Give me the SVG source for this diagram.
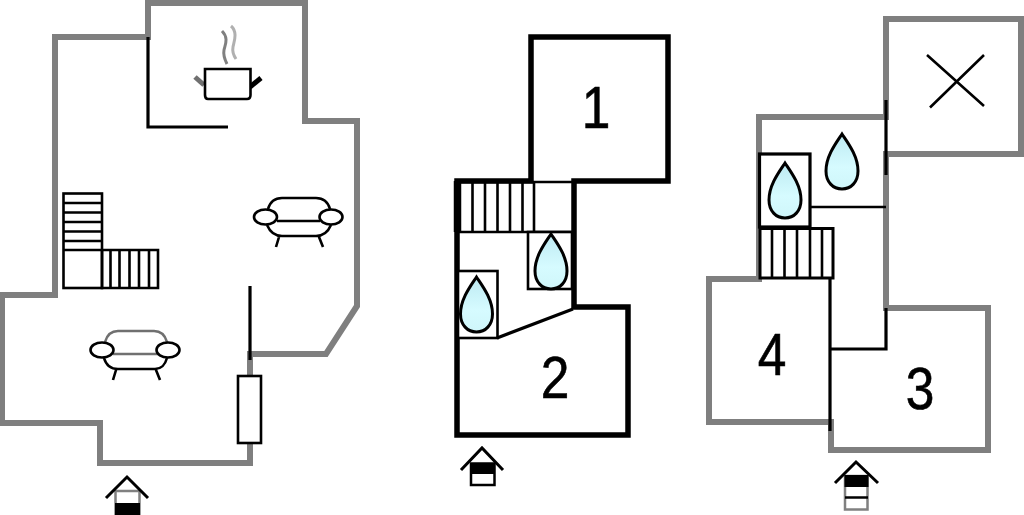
<svg xmlns="http://www.w3.org/2000/svg" width="1024" height="515" viewBox="0 0 1024 515">
<style>
.wall{fill:none;stroke:#7f7f7f;stroke-width:6;stroke-linejoin:miter}
.bwall{fill:none;stroke:#000;stroke-width:5.500;stroke-linejoin:miter}
.ln{fill:none;stroke:#000;stroke-width:3.200}
.th{fill:none;stroke:#000;stroke-width:2.600}
.st{fill:#fff;stroke:#000;stroke-width:2.600}
.drop{fill:url(#dg);stroke:#000;stroke-width:3}
.num{font-family:"Liberation Sans",Arial,sans-serif;font-size:58.500px;fill:#000;stroke:#000;stroke-width:.6;text-anchor:middle}
.sofa{fill:none;stroke:#000;stroke-width:2.600}
.arm{fill:#fff;stroke:#000;stroke-width:2.600}
.roof{fill:none;stroke:#000;stroke-width:3}
</style>
<defs>
<linearGradient id="dg" x1="0" y1="0" x2="0" y2="1"><stop offset="0" stop-color="#bdeaf2"/><stop offset="0.6" stop-color="#d6fbff"/><stop offset="1" stop-color="#cff6fa"/></linearGradient>
<path id="d" d="M0,0C-6,9 -16,22 -16,37C-16,48 -9,55 0,55C9,55 16,48 16,37C16,22 6,9 0,0Z"/>
</defs>
<rect width="1024" height="515" fill="#fff"/>
<g id="plan1">
<path class="wall" d="M148,37V3H305V121H357V306L326,354H250V463H100V423H2V295H55V37Z"/>
<g id="kitchen">
<path class="ln" d="M148,37V127H228"/>
<path fill="none" stroke="#808080" stroke-width="3" d="M222,31C229,38 225,45 224,50C223,55 225,60 227,64"/>
<path fill="none" stroke="#b0b0b0" stroke-width="3" d="M231,26C238,32 234,42 233,47C232,52 234,56 236,59"/>
<path d="M195,77L204,85" stroke="#707070" stroke-width="5" fill="none"/>
<path d="M250,87L261,78" stroke="#000" stroke-width="5" fill="none"/>
<path fill="#fff" stroke="#000" stroke-width="2.600" d="M205,69H250.500V95Q250.500,99 247,99H208Q205,99 205,95Z"/>
</g>
<g id="stairs1">
<rect x="63.500" y="193.500" width="38.500" height="94.500" class="th"/>
<path class="th" d="M64,203H102M64,212.500H102M64,222H102M64,231.500H102M64,241H102M64,250H158V288H102V250M110.500,250V288M119.500,250V288M129.500,250V288M139,250V288M149,250V288"/>
</g>
<g id="sofa1">
<path class="sofa" d="M268,209C270,202 274,198 282,198H316C324,198 328,202 330,209M277,221H320M267,225C270,232 274,236 282,236H316C324,236 328,232 331,225M279,237L276,247M319,237L323,247"/>
<ellipse class="arm" cx="265.500" cy="217" rx="11.500" ry="7.500"/>
<ellipse class="arm" cx="331" cy="217" rx="11.500" ry="7.500"/>
</g>
<g id="sofa2">
<path fill="none" stroke="#707070" stroke-width="2.600" d="M105,342C107,335 111,331 118,331H154C161,331 165,335 167,342M113,354H158"/>
<path class="sofa" d="M104,358C106,365 111,369 118,369H155C162,369 165,365 167,358M116,370L113,380M156,370L160,380"/>
<ellipse class="arm" cx="102" cy="350" rx="11.500" ry="7.500"/>
<ellipse class="arm" cx="168" cy="350" rx="11.500" ry="7.500"/>
</g>
<path class="ln" d="M250,286V360"/>
<rect id="unit" class="st" x="238" y="376" width="23" height="67"/>
<g id="entry1">
<rect x="115.500" y="491" width="24" height="23" fill="#fff" stroke="#808080" stroke-width="2.500"/>
<rect x="115" y="503" width="25" height="12" fill="#000"/>
<path class="roof" d="M106,498L127,477L148,498"/>
</g>
</g>
<g id="plan2">
<path class="bwall" d="M531,181V37H668V181H574V307H628V435H457V181Z"/>
<path d="M457.500,181V232" stroke="#000" stroke-width="7.500" fill="none"/>
<g id="stairs2">
<path class="th" d="M458,182H574M458,232H572M472.500,182V232M485,182V232M497.500,182V232M510,182V232M522.500,182V232M534,182V232"/>
</g>
<g id="bath2a">
<rect x="528" y="232" width="44" height="57" class="st"/>
<use href="#d" class="drop" x="551" y="234"/>
</g>
<g id="bath2b">
<rect x="458" y="271" width="39.500" height="67" class="st"/>
<use href="#d" class="drop" x="476.500" y="277"/>
</g>
<path class="ln" d="M497,338L573,309"/>
<text class="num" transform="translate(596 128) scale(.88 1)">1</text>
<text class="num" transform="translate(555 398) scale(.88 1)">2</text>
<g id="entry2">
<rect x="471" y="463.500" width="23.500" height="21.500" fill="#fff" stroke="#000" stroke-width="2.500"/>
<rect x="470" y="463" width="25" height="11" fill="#000"/>
<path class="roof" d="M461,470L482,448L503,470"/>
</g>
</g>
<g id="plan3">
<path class="wall" d="M886,117V19H1021V154H886V308H988V450H831V422H709V279H759V117Z"/>
<path class="ln" d="M886,100V175"/>
<g id="bath3a">
<rect x="759.500" y="154" width="50.500" height="73" fill="#fff" stroke="#000" stroke-width="3.200"/>
<use href="#d" class="drop" x="785" y="163"/>
</g>
<use href="#d" class="drop" x="842" y="134"/>
<path class="th" d="M810,207H886"/>
<g id="stairs3">
<rect x="760" y="228.500" width="73" height="49.500" fill="#fff" stroke="#000" stroke-width="3"/>
<path class="th" d="M772,228V278M784.500,228V278M797,228V278M810,228V278M822,228V278"/>
</g>
<path class="ln" d="M830,278V431M830,349H886V308"/>
<path id="cross" class="th" d="M927,55L984,106M984,55L930,107.500"/>
<text class="num" transform="translate(772 375) scale(.88 1)">4</text>
<text class="num" transform="translate(920 409) scale(.88 1)">3</text>
<g id="entry3">
<rect x="845" y="476" width="22.500" height="33.500" fill="#fff" stroke="#808080" stroke-width="2.500"/>
<rect x="844.500" y="475" width="24" height="12" fill="#000"/>
<path d="M845,497.500H868" stroke="#000" stroke-width="2.500" fill="none"/>
<path class="roof" d="M835,483L856,462L878,483"/>
</g>
</g>
</svg>
